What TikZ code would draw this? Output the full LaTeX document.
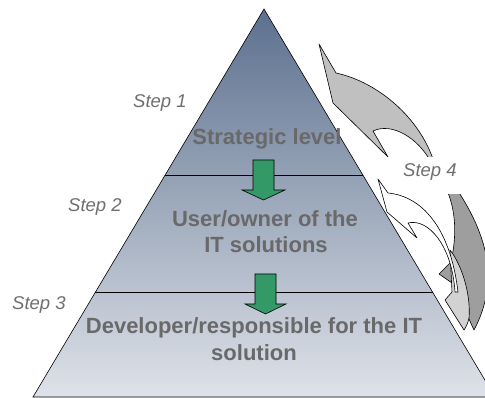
\documentclass[tikz,border=0pt]{standalone}
\usepackage{fontspec}
\setmainfont{Liberation Sans}
\definecolor{topc}{RGB}{92,112,142}
\definecolor{botc}{RGB}{222,226,233}
\definecolor{arrgreen}{RGB}{51,153,102}
\definecolor{txtg}{RGB}{105,105,105}
\definecolor{stepg}{RGB}{110,110,110}
\definecolor{lgray}{RGB}{192,192,192}
\definecolor{dgray}{RGB}{158,158,158}
\definecolor{mgray}{RGB}{210,210,210}
\begin{document}
\begin{tikzpicture}[x=1pt,y=-1pt,
  outline/.style={draw=black, line width=0.6pt, line join=round},
  lvltext/.style={font=\fontsize{22}{26}\selectfont\bfseries, text=txtg, inner sep=0, anchor=base},
  steptext/.style={font=\fontsize{18.5}{22}\selectfont\itshape, text=stepg, inner sep=0, anchor=base west},
  downarrow/.style={fill=arrgreen, draw=black, line width=0.6pt, line join=miter}]
\useasboundingbox (0,0) rectangle (485,398);
\clip (0,0) rectangle (485,398);
% pyramid
\shade[top color=topc, bottom color=botc] (264,9) -- (33,397) -- (495,397) -- cycle;
\draw[line width=0.6pt] (264,9) -- (33,397) -- (495,397) -- cycle;
\coordinate (l1a) at (165,175); \coordinate (l1b) at (363,175);
\coordinate (l2a) at (95,292); \coordinate (l2b) at (433,292);
\draw[line width=0.6pt] (l1a) -- (l1b);
\draw[line width=0.6pt] (l2a) -- (l2b);
% green arrows
\draw[downarrow] (253,160) -- (274,160) -- (274,190) -- (285,190) -- (263.5,200) -- (242,190) -- (253,190) -- cycle;
\draw[downarrow] (255,274) -- (276,274) -- (276,304) -- (286,304) -- (265.5,314) -- (245,304) -- (255,304) -- cycle;
% level texts
\node[lvltext] (lv1) at (267,145) {Strategic level};
\node[lvltext] (lv2a) at (265,227) {User/owner of the};
\node[lvltext] (lv2b) at (266,253) {IT solutions};
\node[lvltext] (lv3a) at (254,334) {Developer/responsible for the IT};
\node[lvltext] (lv3b) at (254,360) {solution};
% upper curved arrow
\draw[outline, fill=lgray] (319,44) -- (336,73) .. controls (378,82) and (420,118) .. (434,162)
  -- (431,162) .. controls (418,138) and (392,122) .. (373,131) -- (388,157) -- (333,103) -- cycle;
% lower group
\draw[outline, fill=dgray] (446,188) .. controls (456,210) and (457,235) .. (451,262) -- (439,274) -- (452,283)
  .. controls (462,300) and (468,318) .. (474,330)
  .. controls (482,315) and (489,295) .. (488,270) .. controls (486,240) and (472,212) .. (456,188) -- cycle;
\draw[outline, fill=mgray] (450,250) .. controls (462,265) and (471,295) .. (469,318)
  .. controls (468,323) and (466,327) .. (464,330) -- (445,300) -- (452,292) -- cycle;
\draw[outline, fill=white] (378,179) -- (388,193) .. controls (420,196) and (450,225) .. (458,292)
  -- (455,292) .. controls (452,245) and (428,218) .. (408,223) -- (417,238) -- (387,212) -- cycle;
% white label box
\fill[white] (395,157) rectangle (470,194);
% step labels
\node[steptext] (st1) at (133,108) {Step 1};
\node[steptext] (st2) at (68,212) {Step 2};
\node[steptext] (st3) at (12,310) {Step 3};
\node[steptext] (st4) at (403,177) {Step 4};
\end{tikzpicture}
\end{document}
